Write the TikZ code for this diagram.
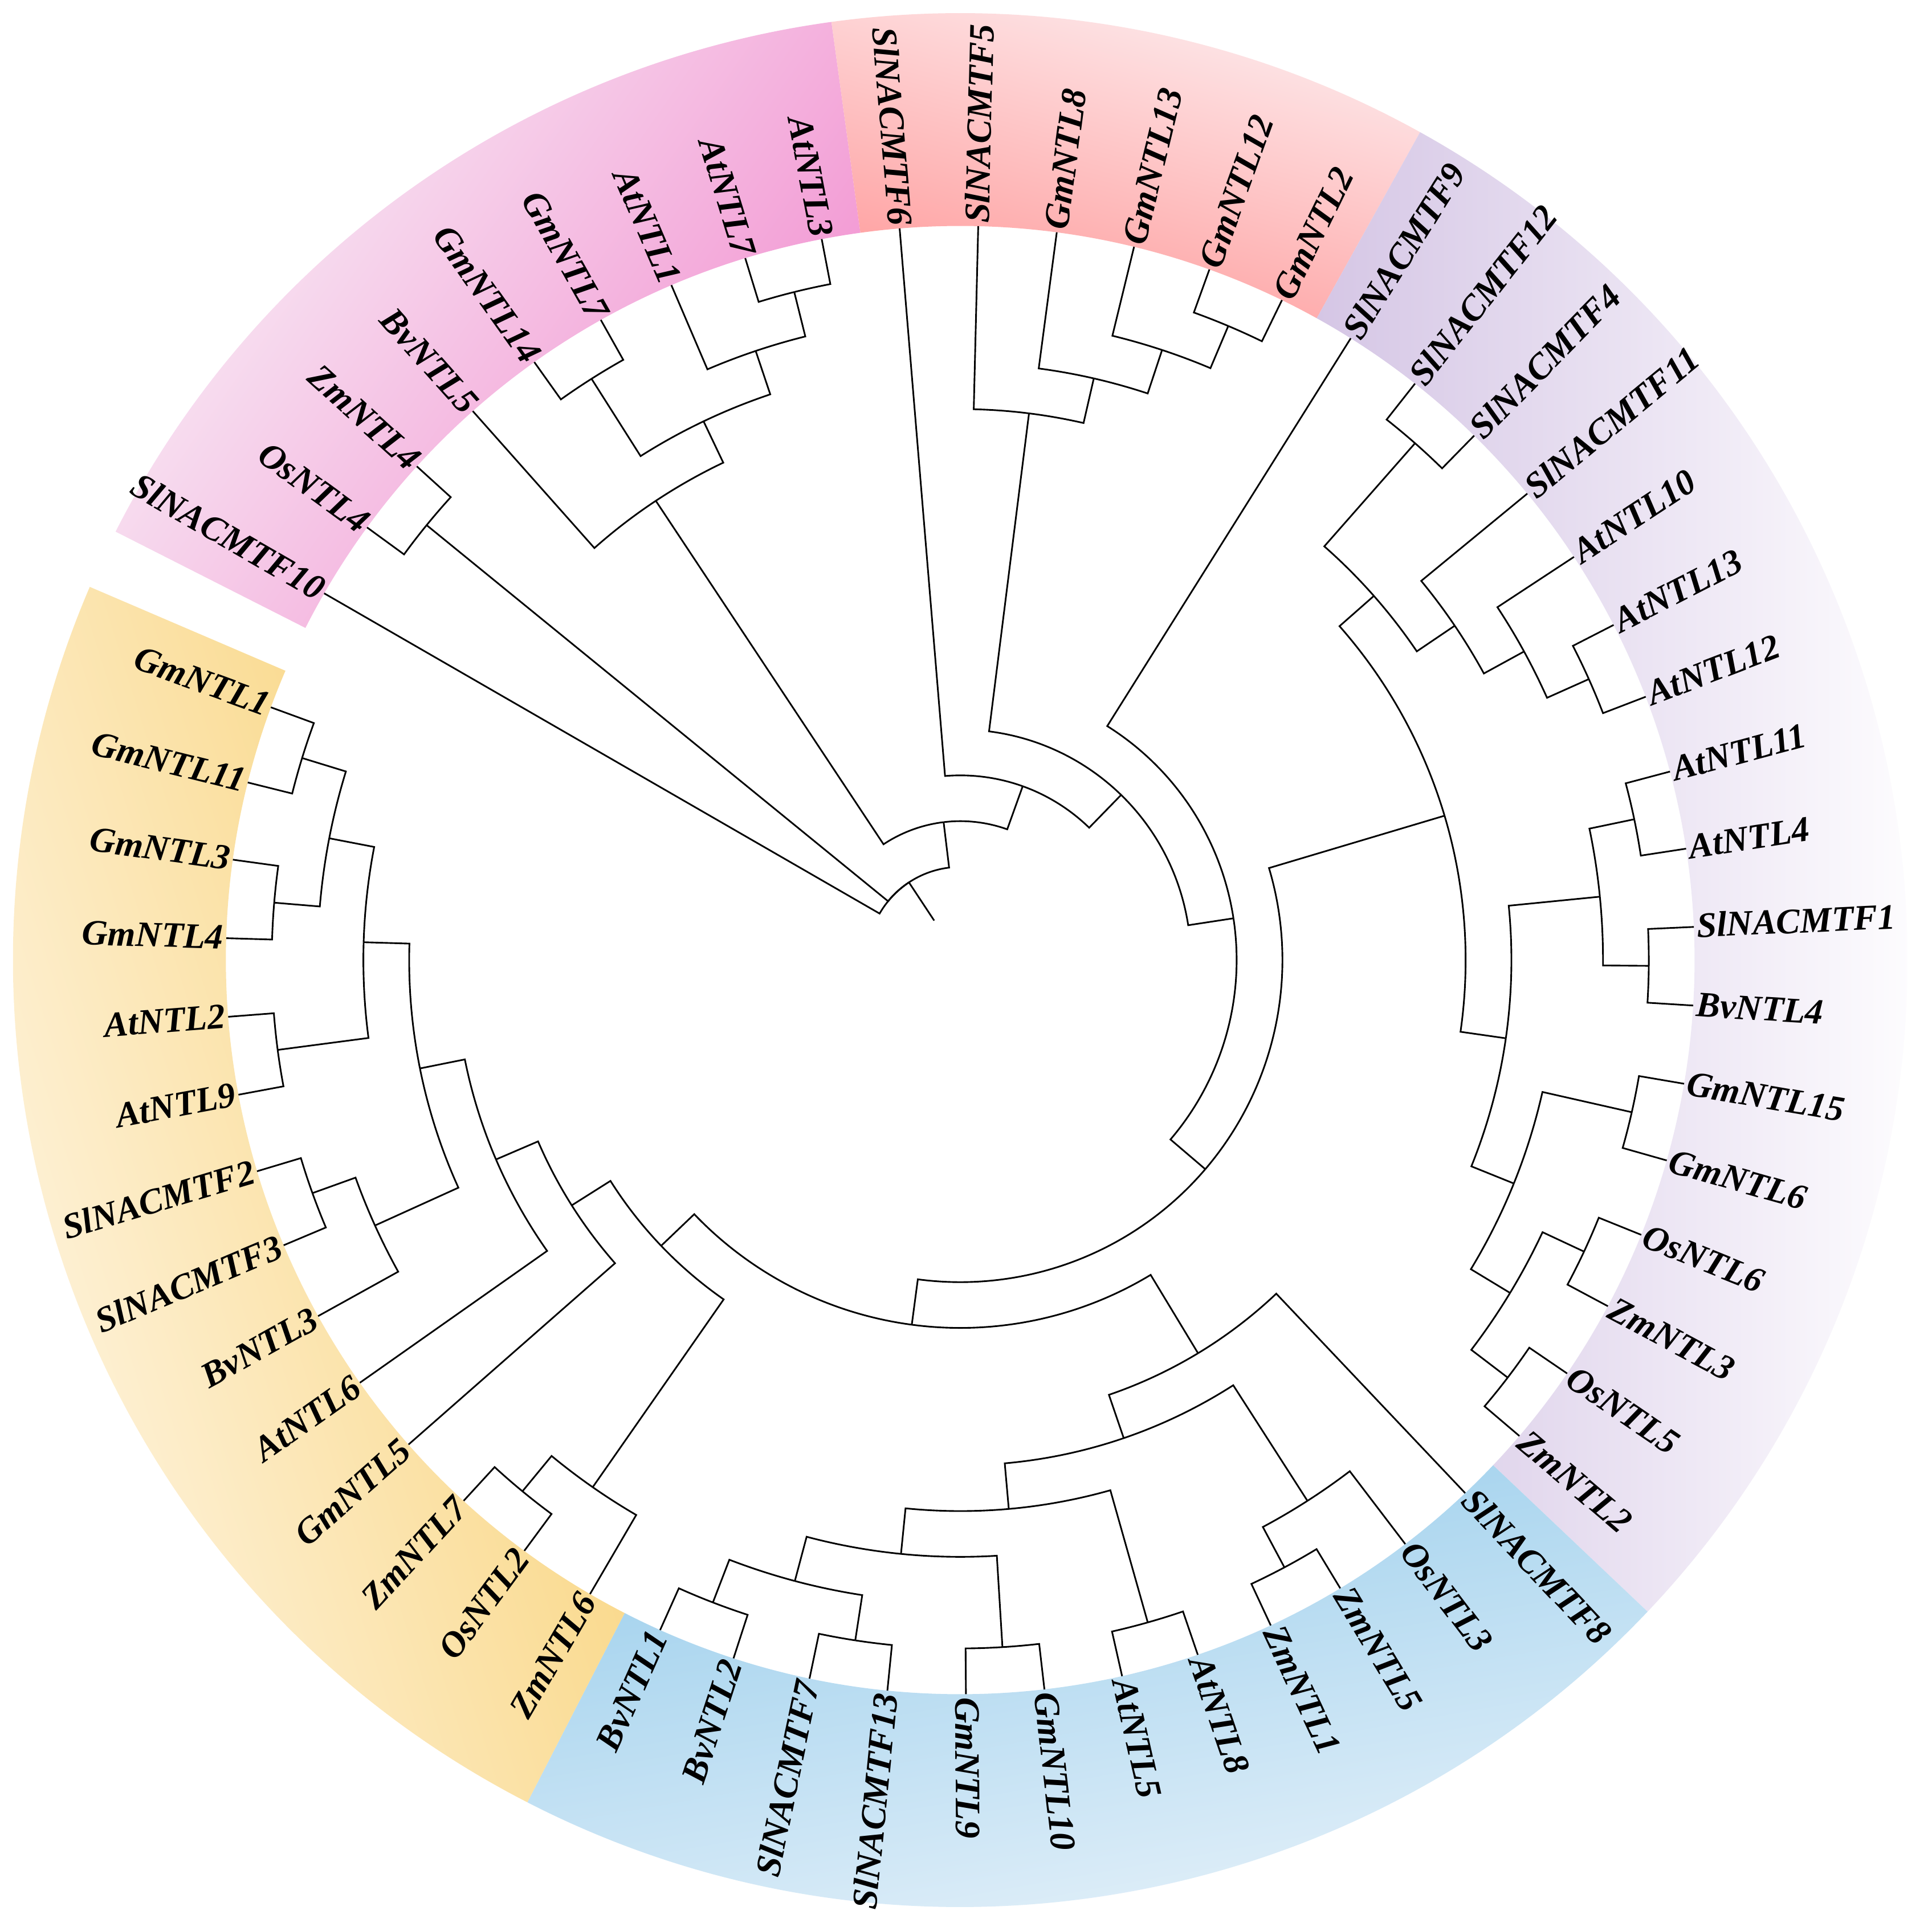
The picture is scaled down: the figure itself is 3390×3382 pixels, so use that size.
\documentclass[tikz,border=0pt]{standalone}
\usepackage{fontspec}
\setmainfont{Liberation Serif}
\definecolor{pinkS}{HTML}{F290D0}
\definecolor{pinkL}{HTML}{F8F0F7}
\definecolor{redS}{HTML}{FF9C9C}
\definecolor{redL}{HTML}{FDEEF0}
\definecolor{purS}{HTML}{D5C6E5}
\definecolor{purL}{HTML}{FDFCFE}
\definecolor{bluS}{HTML}{9ACEEC}
\definecolor{bluL}{HTML}{EEF5FB}
\definecolor{yelS}{HTML}{F8D070}
\definecolor{yelL}{HTML}{FFFAF2}
\makeatletter
\newcommand\tnode[3]{\expandafter\def\csname na@#1\endcsname{#2}\expandafter\def\csname nh@#1\endcsname{#3}\coordinate (#1) at (#2:{1288.5-80.36*#3});}
\newcommand\leafR[2]{\tnode{#1}{#2}{0}\node[leaflabel,anchor=west,rotate=#2] (lab#1) at (#2:1294) {#1};}
\newcommand\leafL[2]{\tnode{#1}{#2}{0}\node[leaflabel,anchor=east,rotate={#2+180}] (lab#1) at (#2:1294) {#1};}
\newcommand\tedge[2]{\draw[branchline] (#1) arc[start angle=\csname na@#1\endcsname, end angle=\csname na@#2\endcsname, radius={1288.5-80.36*\csname nh@#1\endcsname}] -- (#2);}
\newcommand\kids[2]{\foreach \kid in {#2}{\tedge{#1}{\kid}}}
\newcommand\band[3]{\shade[#3] (#1:1288.5) arc[start angle=#1,end angle=#2,radius=1288.5] -- (#2:1662) arc[start angle=#2,end angle=#1,radius=1662] -- cycle;}
\makeatother
\begin{document}
\begin{tikzpicture}[x=0.01cm,y=0.01cm,
  branchline/.style={line width=0.82pt,line join=miter,black},
  leaflabel/.style={font=\fontsize{17.85pt}{20pt}\selectfont\bfseries\itshape,inner sep=0pt,outer sep=0pt,text height=10.7pt,text depth=0pt}]
\fill[white] (-1685,-1697) rectangle (1705,1685);
\useasboundingbox (-1685,-1697) rectangle (1705,1685);
% colour bands
\band{97.82}{153.1}{top color=pinkL,bottom color=pinkS,shading angle=55}
\band{60.96}{97.82}{top color=redL,bottom color=redS,shading angle=-15}
\band{-43.48}{60.96}{left color=purS,right color=purL}
\band{-117.2}{-43.48}{top color=bluS,bottom color=bluL,shading angle=10}
\band{-203.21}{-117.2}{top color=yelS,bottom color=yelL,shading angle=-72.5}
% leaves
\leafL{SlNACMTF10}{150.03}
\leafL{OsNTL4}{143.89}
\leafL{ZmNTL4}{137.74}
\leafL{BvNTL5}{131.60}
\leafL{GmNTL14}{125.46}
\leafL{GmNTL7}{119.31}
\leafL{AtNTL1}{113.17}
\leafL{AtNTL7}{107.03}
\leafL{AtNTL3}{100.88}
\leafL{SlNACMTF6}{94.74}
\leafR{SlNACMTF5}{88.60}
\leafR{GmNTL8}{82.45}
\leafR{GmNTL13}{76.31}
\leafR{GmNTL12}{70.17}
\leafR{GmNTL2}{64.02}
\leafR{SlNACMTF9}{57.88}
\leafR{SlNACMTF12}{51.74}
\leafR{SlNACMTF4}{45.59}
\leafR{SlNACMTF11}{39.45}
\leafR{AtNTL10}{33.31}
\leafR{AtNTL13}{27.16}
\leafR{AtNTL12}{21.02}
\leafR{AtNTL11}{14.88}
\leafR{AtNTL4}{8.73}
\leafR{SlNACMTF1}{2.59}
\leafR{BvNTL4}{-3.55}
\leafR{GmNTL15}{-9.70}
\leafR{GmNTL6}{-15.84}
\leafR{OsNTL6}{-21.98}
\leafR{ZmNTL3}{-28.13}
\leafR{OsNTL5}{-34.27}
\leafR{ZmNTL2}{-40.41}
\leafR{SlNACMTF8}{-46.56}
\leafR{OsNTL3}{-52.70}
\leafR{ZmNTL5}{-58.84}
\leafR{ZmNTL1}{-64.99}
\leafR{AtNTL8}{-71.13}
\leafR{AtNTL5}{-77.27}
\leafR{GmNTL10}{-83.42}
\leafR{GmNTL9}{-89.56}
\leafL{SlNACMTF13}{-95.70}
\leafL{SlNACMTF7}{-101.85}
\leafL{BvNTL2}{-107.99}
\leafL{BvNTL1}{-114.13}
\leafL{ZmNTL6}{-120.28}
\leafL{OsNTL2}{-126.42}
\leafL{ZmNTL7}{-132.56}
\leafL{GmNTL5}{-138.71}
\leafL{AtNTL6}{-144.85}
\leafL{BvNTL3}{-150.99}
\leafL{SlNACMTF3}{-157.14}
\leafL{SlNACMTF2}{-163.28}
\leafL{AtNTL9}{-169.43}
\leafL{AtNTL2}{-175.57}
\leafL{GmNTL4}{-181.71}
\leafL{GmNTL3}{-187.86}
\leafL{GmNTL11}{-194.00}
\leafL{GmNTL1}{-200.14}
% internal nodes
\tnode{nP1}{140.815}{1}
\tnode{nZa}{122.385}{1}
\tnode{nZb}{103.955}{1}
\tnode{nZc}{108.5625}{2}
\tnode{nZtwo}{115.474}{3}
\tnode{nZ}{123.537}{4}
\tnode{nRa}{67.095}{1}
\tnode{nRb}{71.7025}{2}
\tnode{nRc}{77.076}{3}
\tnode{nRC}{82.838}{4}
\tnode{nI}{48.665}{1}
\tnode{nL}{24.09}{1}
\tnode{nK}{28.70}{2}
\tnode{nJ}{34.075}{3}
\tnode{nH}{41.37}{4}
\tnode{nO}{11.805}{1}
\tnode{nP}{-0.48}{1}
\tnode{nN}{5.6625}{2}
\tnode{nR}{-12.77}{1}
\tnode{nQ}{-25.055}{1}
\tnode{nU}{-37.34}{1}
\tnode{nT}{-31.1975}{2}
\tnode{nS}{-21.984}{3}
\tnode{nM}{-8.161}{4}
\tnode{nG}{16.605}{5}
\tnode{nFj}{-111.06}{1}
\tnode{nFk}{-98.775}{1}
\tnode{nFh}{-104.9175}{2}
\tnode{nFi}{-86.49}{1}
\tnode{nFf}{-95.704}{3}
\tnode{nFg}{-74.20}{1}
\tnode{nFc}{-84.952}{4}
\tnode{nFe}{-61.915}{1}
\tnode{nFd}{-57.3075}{2}
\tnode{nFb}{-71.13}{5}
\tnode{nFa}{-58.845}{6}
\tnode{nX}{-129.49}{1}
\tnode{nW}{-124.885}{2}
\tnode{nYh}{-197.07}{1}
\tnode{nYi}{-184.785}{1}
\tnode{nYf}{-190.9275}{2}
\tnode{nYg}{-172.50}{1}
\tnode{nYd}{-181.714}{3}
\tnode{nYj}{-160.21}{1}
\tnode{nYe}{-155.60}{2}
\tnode{nYc}{-168.657}{4}
\tnode{nYb}{-156.754}{5}
\tnode{nY}{-147.732}{6}
\tnode{nV}{-136.3085}{7}
\tnode{nF}{-97.577}{8}
\tnode{nE}{-40.486}{9}
\tnode{nD}{8.697}{10}
\tnode{nC}{45.7675}{11}
\tnode{nB}{70.254}{12}
\tnode{nA}{96.8955}{13}
\tnode{nRoot}{123.46}{14}
\coordinate (nStub) at (123.46:83.1);
% branches
\draw[branchline] (nRoot) -- (nStub);
\kids{nRoot}{SlNACMTF10,nP1,nA}
\kids{nP1}{OsNTL4,ZmNTL4}
\kids{nA}{nZ,nB}
\kids{nZ}{BvNTL5,nZtwo}
\kids{nZtwo}{nZa,nZc}
\kids{nZa}{GmNTL14,GmNTL7}
\kids{nZc}{AtNTL1,nZb}
\kids{nZb}{AtNTL7,AtNTL3}
\kids{nB}{SlNACMTF6,nC}
\kids{nC}{nRC,nD}
\kids{nRC}{SlNACMTF5,nRc}
\kids{nRc}{GmNTL8,nRb}
\kids{nRb}{GmNTL13,nRa}
\kids{nRa}{GmNTL12,GmNTL2}
\kids{nD}{SlNACMTF9,nE}
\kids{nE}{nG,nF}
\kids{nG}{nH,nM}
\kids{nH}{nI,nJ}
\kids{nI}{SlNACMTF12,SlNACMTF4}
\kids{nJ}{SlNACMTF11,nK}
\kids{nK}{AtNTL10,nL}
\kids{nL}{AtNTL13,AtNTL12}
\kids{nM}{nN,nS}
\kids{nN}{nO,nP}
\kids{nO}{AtNTL11,AtNTL4}
\kids{nP}{SlNACMTF1,BvNTL4}
\kids{nS}{nR,nT}
\kids{nR}{GmNTL15,GmNTL6}
\kids{nT}{nQ,nU}
\kids{nQ}{OsNTL6,ZmNTL3}
\kids{nU}{OsNTL5,ZmNTL2}
\kids{nF}{nFa,nV}
\kids{nFa}{SlNACMTF8,nFb}
\kids{nFb}{nFd,nFc}
\kids{nFd}{OsNTL3,nFe}
\kids{nFe}{ZmNTL5,ZmNTL1}
\kids{nFc}{nFg,nFf}
\kids{nFg}{AtNTL8,AtNTL5}
\kids{nFf}{nFi,nFh}
\kids{nFi}{GmNTL10,GmNTL9}
\kids{nFh}{nFk,nFj}
\kids{nFk}{SlNACMTF13,SlNACMTF7}
\kids{nFj}{BvNTL2,BvNTL1}
\kids{nV}{nW,nY}
\kids{nW}{ZmNTL6,nX}
\kids{nX}{OsNTL2,ZmNTL7}
\kids{nY}{GmNTL5,nYb}
\kids{nYb}{AtNTL6,nYc}
\kids{nYc}{nYe,nYd}
\kids{nYe}{BvNTL3,nYj}
\kids{nYj}{SlNACMTF3,SlNACMTF2}
\kids{nYd}{nYg,nYf}
\kids{nYg}{AtNTL9,AtNTL2}
\kids{nYf}{nYi,nYh}
\kids{nYi}{GmNTL4,GmNTL3}
\kids{nYh}{GmNTL11,GmNTL1}
\end{tikzpicture}
\end{document}
